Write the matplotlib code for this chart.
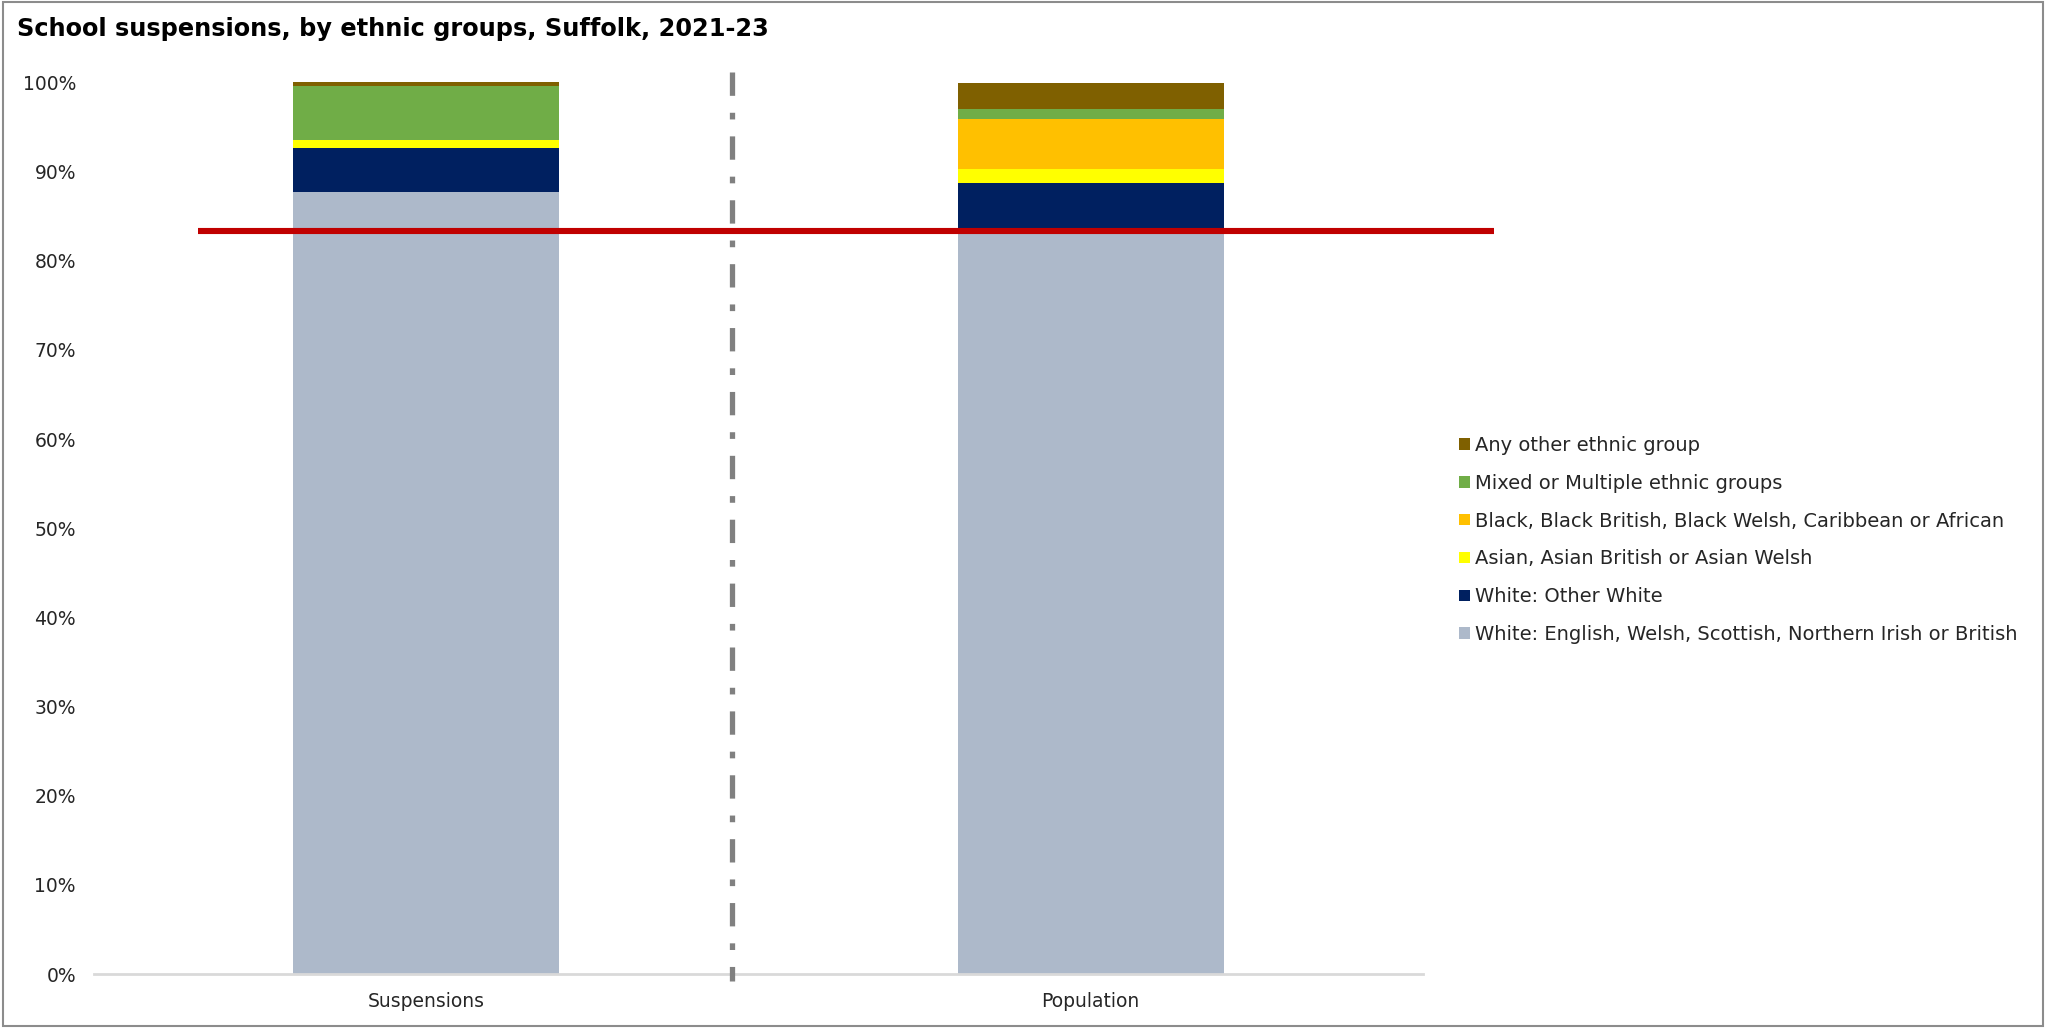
import matplotlib
matplotlib.use("Agg")
import matplotlib.pyplot as plt
from matplotlib.patches import Rectangle
import numpy as np

plt.rcParams['font.family'] = ['DejaVu Sans']
plt.rcParams['lines.scale_dashes'] = False

categories = ['Suspensions', 'Population']
groups = [
    'White: English, Welsh, Scottish, Northern Irish or British',
    'White: Other White',
    'Asian, Asian British or Asian Welsh',
    'Black, Black British, Black Welsh, Caribbean or African',
    'Mixed or Multiple ethnic groups',
    'Any other ethnic group',
]
white_british = [87.7, 83.3]
other_white = [4.9, 5.45]
asian = [1.0, 1.55]
black = [0.0, 5.6]
mixed = [6.0, 1.1]
other_group = [0.4, 3.0]
population_reference = 83.3  # red line: population share of White British

series = [white_british, other_white, asian, black, mixed, other_group]
colors = ['#ADB9CA', '#002060', '#FFFF00', '#FFC000', '#70AD47', '#7F6000']

W, H = 2046, 1028
fig = plt.figure(figsize=(W / 100, H / 100), dpi=100)
fig.patch.set_facecolor('white')
fig.patches.append(Rectangle((0.0015, 0.002), 0.997, 0.996, transform=fig.transFigure,
                             fill=False, edgecolor='#8c8c8c', linewidth=1.5))

ax = fig.add_axes([94 / W, 1 - 974 / H, (1423 - 94) / W, (974 - 82.5) / H])
x = np.arange(len(categories))
bottom = np.zeros(len(categories))
handles = []
for vals, col, lab in zip(series, colors, groups):
    v = np.array(vals, dtype=float)
    b = ax.bar(x, v, 0.4, bottom=bottom, color=col, label=lab, zorder=2)
    handles.append(b)
    bottom += v

ax.set_xlim(-0.5, 1.5)
ax.set_ylim(0, 100)
ax.set_yticks(np.arange(0, 101, 10))
ax.set_yticklabels([f'{t}%' for t in range(0, 101, 10)])
ax.set_xticks(x)
ax.set_xticklabels(categories)
ax.tick_params(axis='y', length=0, pad=13, labelsize=13.5, colors='#262626')
ax.tick_params(axis='x', length=0, pad=13, labelsize=13.5, colors='#262626')
for s in ['top', 'right', 'left']:
    ax.spines[s].set_visible(False)
ax.spines['bottom'].set_color('#d9d9d9')
ax.spines['bottom'].set_linewidth(2)

# reference line
ax.plot([-0.343, 1.607], [population_reference] * 2, color='#C00000', linewidth=4.4,
        clip_on=False, zorder=5, solid_capstyle='butt')

# divider (dash-dot)
ax.plot([0.46, 0.46], [101.2, -0.8], color='#808080', linewidth=3.8,
        dashes=(16.8, 12.2, 4.8, 12.2), dash_capstyle='butt', clip_on=False, zorder=4)

fig.text(17 / W, 1 - 29 / H, 'School suspensions, by ethnic groups, Suffolk, 2021-23',
         fontsize=17.3, fontweight='bold', va='center', ha='left', color='black')

leg = fig.legend(handles[::-1], groups[::-1], loc='center left',
                 bbox_to_anchor=(1459 / W, 1 - 540 / H), frameon=False,
                 fontsize=14, handlelength=0.54, handleheight=0.54,
                 handletextpad=0.28, labelspacing=0.97, borderpad=0, borderaxespad=0)
for t in leg.get_texts():
    t.set_color('#262626')

fig.savefig('out.png', dpi=100)
